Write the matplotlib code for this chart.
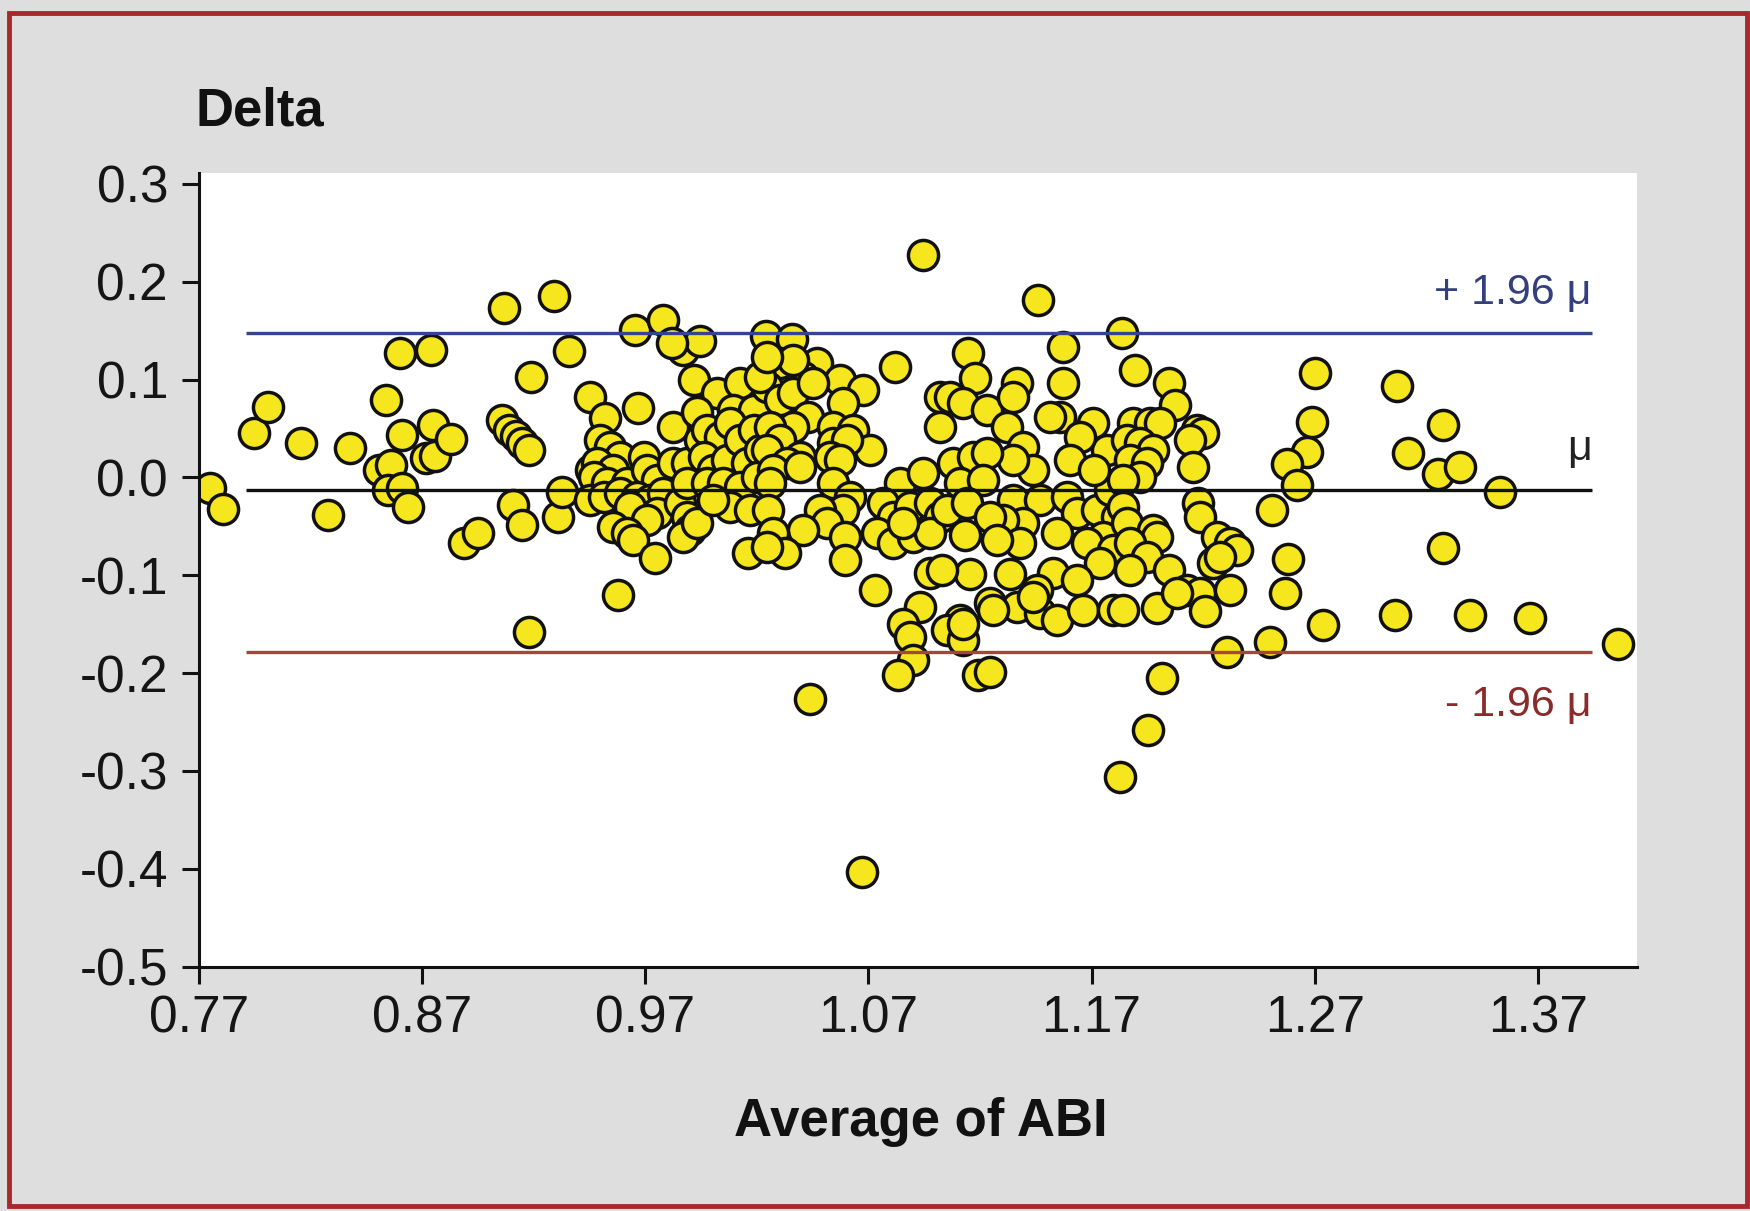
import matplotlib
matplotlib.use("Agg")
import matplotlib.pyplot as plt
from matplotlib.patches import Rectangle

# (average ABI, delta) pairs, grouped by where they sit along the x axis
low_abi_group = [
    (0.775, -0.011), (0.781, -0.032), (0.795, 0.045), (0.801, 0.072), (0.816, 0.035),
    (0.828, -0.038), (0.838, 0.030), (0.851, 0.008), (0.854, 0.079), (0.856, 0.013),
    (0.855, -0.013), (0.860, 0.127), (0.861, 0.043), (0.861, -0.011), (0.864, -0.030),
    (0.872, 0.020), (0.876, 0.022), (0.874, 0.130), (0.875, 0.054), (0.883, 0.039),
    (0.889, -0.067), (0.895, -0.057), (0.906, 0.059), (0.907, 0.173), (0.909, 0.049),
    (0.912, 0.042), (0.915, 0.035), (0.918, 0.028), (0.911, -0.028), (0.915, -0.049),
    (0.918, -0.158), (0.919, 0.103), (0.929, 0.185), (0.931, -0.040), (0.933, -0.015),
    (0.936, 0.129), (0.946, 0.008),
]

mid_low_group = [
    (0.9655, 0.151), (0.978, 0.161), (0.9872, 0.130), (0.9947, 0.139), (0.982, 0.137),
    (0.9917, 0.0997), (0.9454, 0.0826), (0.967, 0.0707), (0.952, 0.0604), (0.9827, 0.0519),
    (1.0021, 0.086), (1.0126, 0.0962), (1.0096, 0.069), (0.9932, 0.0673), (1.0186, 0.069),
    (0.9499, 0.0383), (0.9543, 0.0315), (0.9588, 0.0212), (0.9484, 0.0144), (0.9558, 0.0076),
    (0.9469, 0.0008), (0.9528, -0.006), (0.9618, -0.006), (0.9693, 0.0212), (0.9708, 0.0076),
    (0.9752, -0.0026), (0.9454, -0.023), (0.9514, -0.0197), (0.9588, -0.0163), (0.9663, -0.0197),
    (0.9723, -0.023), (0.9782, -0.0163), (0.9633, -0.0299), (0.9752, -0.0367), (0.9708, -0.0435),
    (0.9558, -0.0504), (0.9618, -0.0572), (0.9648, -0.064), (0.9857, -0.0265), (0.9887, -0.0401),
    (0.9902, -0.0538), (0.9872, -0.0606), (0.9932, -0.0469), (0.9827, 0.0144), (0.9887, 0.0144),
    (0.9947, 0.0383), (0.9977, 0.0485), (1.0036, 0.0417), (1.0081, 0.0553), (0.9962, 0.0212),
    (1.0006, 0.0076), (1.0066, 0.0178), (1.0126, 0.0383), (1.0186, 0.0485), (1.0156, 0.0144),
    (1.0215, 0.0281), (0.9887, -0.006), (0.9977, -0.006), (1.0051, -0.006), (1.0126, -0.0095),
    (1.0201, 0.0008), (1.0081, -0.0299), (1.0171, -0.0333), (1.0006, -0.023),
    (0.9745, -0.0828), (0.958, -0.1203), (1.0163, -0.0777),
]

mid_group = [
    (1.0947, 0.2275), (1.024, 0.145), (1.036, 0.142), (1.082, 0.1133), (1.0305, 0.1167),
    (1.0469, 0.1167), (1.0409, 0.103), (1.0573, 0.0997), (1.0678, 0.0894), (1.0588, 0.0758),
    (1.0245, 0.0928), (1.0305, 0.0792), (1.0364, 0.086), (1.0432, 0.0621), (1.0364, 0.0519),
    (1.026, 0.0519), (1.0305, 0.0383), (1.0245, 0.0281), (1.0394, 0.0212), (1.0334, 0.0144),
    (1.0275, 0.0076), (1.0394, 0.011), (1.0544, 0.0519), (1.0633, 0.0485), (1.0708, 0.0281),
    (1.0544, 0.0349), (1.0603, 0.0383), (1.0529, 0.0212), (1.0573, 0.0178), (1.026, -0.006),
    (1.0544, -0.006), (1.0618, -0.0197), (1.0588, -0.0333), (1.0484, -0.0333), (1.0514, -0.0469),
    (1.0409, -0.0538), (1.0252, -0.0333), (1.0275, -0.0572), (1.0327, -0.0777), (1.0245, -0.0708),
    (1.0596, -0.0606), (1.0596, -0.0845), (1.073, -0.115), (1.0842, -0.006), (1.0947, 0.0042),
    (1.0768, -0.0265), (1.0812, -0.0401), (1.0887, -0.0299), (1.0977, -0.0265), (1.1021, -0.0401),
    (1.0738, -0.0572), (1.0812, -0.0674), (1.0902, -0.0606), (1.0977, -0.0572), (1.0857, -0.0469),
    (1.0977, -0.0981), (1.0932, -0.1322), (1.0857, -0.1493), (1.0887, -0.1629), (1.1021, 0.0826),
    (1.1021, 0.0519), (1.0215, 0.103), (1.0364, 0.120), (1.0245, 0.1235), (1.0454, 0.0963),
    (1.0902, -0.1868), (1.0835, -0.2021), (1.044, -0.226), (1.0671, -0.4033),
]

mid_high_group = [
    (1.1148, 0.127), (1.1178, 0.1014), (1.1574, 0.1338), (1.1574, 0.0962), (1.1066, 0.0826),
    (1.1126, 0.0758), (1.123, 0.069), (1.1364, 0.0962), (1.1349, 0.0826), (1.132, 0.0519),
    (1.1559, 0.0621), (1.1514, 0.0621), (1.1708, 0.0553), (1.1768, 0.028), (1.1648, 0.0417),
    (1.1603, 0.0178), (1.1394, 0.0315), (1.1439, 0.0076), (1.1349, 0.0178), (1.1081, 0.0144),
    (1.117, 0.0212), (1.123, 0.0247), (1.111, -0.006), (1.1215, -0.0026), (1.1051, -0.0333),
    (1.1141, -0.0265), (1.1133, -0.0589), (1.1349, -0.0231), (1.1469, -0.0231), (1.1394, -0.0469),
    (1.1305, -0.0435), (1.1245, -0.0401), (1.1379, -0.0674), (1.1275, -0.064), (1.1588, -0.0197),
    (1.1633, -0.0367), (1.1544, -0.0572), (1.1723, -0.0333), (1.1783, -0.0128), (1.1812, -0.0401),
    (1.1753, -0.0606), (1.1678, -0.0674), (1.1798, -0.0743), (1.1738, -0.0879), (1.1155, -0.0992),
    (1.1335, -0.0992), (1.1529, -0.0981), (1.1633, -0.1049), (1.1454, -0.1152), (1.1245, -0.1288),
    (1.1364, -0.1322), (1.1469, -0.139), (1.1544, -0.1458), (1.1663, -0.1356), (1.1798, -0.1356),
    (1.111, -0.1458), (1.1051, -0.1561), (1.1126, -0.1663), (1.1028, -0.0947), (1.1462, 0.181),
    (1.171, 0.008), (1.1126, -0.1493), (1.1193, -0.2021), (1.1245, -0.1990), (1.126, -0.1356),
    (1.144, -0.122),
]

high_group = [
    (1.1836, 0.148), (1.1895, 0.1099), (1.2045, 0.0962), (1.2074, 0.0741), (1.1888, 0.0553),
    (1.1962, 0.0553), (1.2007, 0.0553), (1.1858, 0.0383), (1.1918, 0.0349), (1.1977, 0.028),
    (1.1873, 0.0178), (1.1947, 0.0144), (1.1918, 0.0008), (1.1843, -0.0026), (1.2171, 0.0485),
    (1.2201, 0.0451), (1.2141, 0.0383), (1.2156, 0.011), (1.2179, -0.0265), (1.2186, -0.0401),
    (1.1843, -0.0299), (1.1858, -0.0469), (1.1977, -0.0538), (1.1992, -0.0606), (1.1873, -0.0674),
    (1.1947, -0.081), (1.2261, -0.0606), (1.2321, -0.0674), (1.2351, -0.0743), (1.2246, -0.0879),
    (1.2276, -0.081), (1.1873, -0.0947), (1.2045, -0.0947), (1.2127, -0.1152), (1.2186, -0.1186),
    (1.232, -0.1152), (1.1992, -0.1339), (1.2209, -0.137), (1.1843, -0.1356), (1.2082, -0.1186),
    (1.2015, -0.2055), (1.1955, -0.2584), (1.1828, -0.3061),
]

upper_tail_group = [
    (1.270, 0.107), (1.2687, 0.057), (1.2664, 0.026), (1.2575, 0.014), (1.262, -0.008),
    (1.2508, -0.033), (1.258, -0.083), (1.2567, -0.1186), (1.2739, -0.151), (1.25, -0.168),
    (1.2306, -0.1783), (1.3068, 0.093), (1.3276, 0.054), (1.312, 0.025), (1.325, 0.004),
    (1.335, 0.011), (1.353, -0.015), (1.3276, -0.072), (1.306, -0.141), (1.3396, -0.141),
    (1.3665, -0.144), (1.406, -0.170),
]

# Bland-Altman reference lines
mean_diff = -0.013
upper_limit = 0.148
lower_limit = -0.178
line_x_range = (0.791, 1.394)

x_ticks = [0.77, 0.87, 0.97, 1.07, 1.17, 1.27, 1.37]
y_ticks = [0.3, 0.2, 0.1, 0.0, -0.1, -0.2, -0.3, -0.4, -0.5]

groups = [low_abi_group, mid_low_group, mid_group, mid_high_group, high_group, upper_tail_group]
avg_abi = [p[0] for g in groups for p in g]
delta = [p[1] for g in groups for p in g]

plt.rcParams["font.family"] = ["Liberation Sans", "DejaVu Sans"]

fig = plt.figure(figsize=(17.5, 12.11), dpi=100)
fig.patch.set_facecolor("#dedede")

# page frame
fig.patches.append(Rectangle((0.005, 0.004), 0.993, 0.985, transform=fig.transFigure,
                             fill=False, edgecolor="#a8282c", linewidth=3.5, zorder=0))

ax = fig.add_axes([0.1135, 0.2018, 0.8221, 0.6552])
ax.set_facecolor("white")
ax.set_xlim(0.77, 1.4145)
ax.set_ylim(-0.5, 0.311)

ax.scatter(avg_abi, delta, s=470, facecolor="#f6e61e", edgecolor="#111111",
           linewidth=2.5, zorder=2)

ax.hlines(upper_limit, *line_x_range, color="#34448e", linewidth=2.4, zorder=3)
ax.hlines(mean_diff, *line_x_range, color="#111111", linewidth=2.4, zorder=3)
ax.hlines(lower_limit, *line_x_range, color="#a6453c", linewidth=2.4, zorder=3)

ax.text(line_x_range[1], 0.189, "+ 1.96 \u03bc", ha="right", va="center",
        fontsize=31, color="#34407e")
ax.text(line_x_range[1], 0.0295, "\u03bc", ha="right", va="center",
        fontsize=31, color="#222222")
ax.text(line_x_range[1], -0.233, "- 1.96 \u03bc", ha="right", va="center",
        fontsize=31, color="#8a2a2a")

for side in ("top", "right"):
    ax.spines[side].set_visible(False)
for side in ("left", "bottom"):
    ax.spines[side].set_linewidth(2.2)
    ax.spines[side].set_color("#111111")

ax.set_xticks(x_ticks)
ax.set_xticklabels([f"{v:.2f}" for v in x_ticks])
ax.set_yticks(y_ticks)
ax.set_yticklabels([f"{v:.1f}" for v in y_ticks])
ax.tick_params(axis="both", direction="out", length=12, width=2.2, color="#111111",
               labelsize=37, labelcolor="#151515")
ax.tick_params(axis="y", pad=10)
ax.tick_params(axis="x", pad=8)

fig.text(0.1116, 0.896, "Delta", fontsize=38, fontweight="bold", ha="left",
         va="baseline", color="#111111")
fig.text(0.526, 0.0737, "Average of ABI", fontsize=38, fontweight="bold",
         ha="center", va="center", color="#111111")

fig.savefig("out.png", dpi=100, facecolor=fig.get_facecolor())
